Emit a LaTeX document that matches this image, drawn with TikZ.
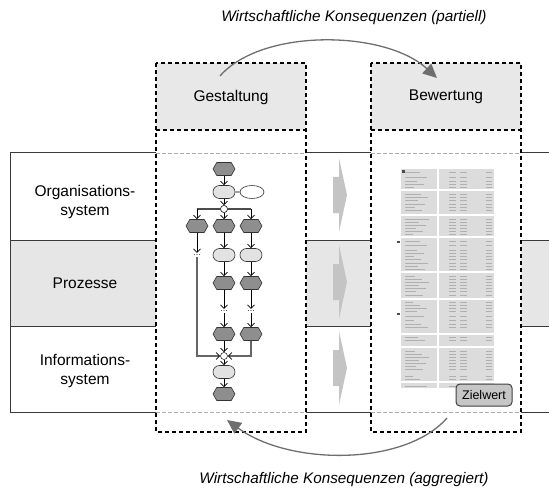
\documentclass[tikz,border=0pt]{standalone}
\usepackage{fontspec}
\setmainfont{Liberation Sans}
\usetikzlibrary{arrows.meta,shapes.symbols,shapes.misc,shapes.geometric,calc}
\definecolor{hdr}{HTML}{E8E8E8}
\definecolor{band}{HTML}{E6E6E6}
\definecolor{hexc}{HTML}{8E8E8E}
\definecolor{evc}{HTML}{E2E2E2}
\definecolor{blk}{HTML}{C4C4C4}
\definecolor{arcc}{HTML}{6E6E6E}
\definecolor{tabc}{HTML}{DCDCDC}
\definecolor{tabt}{HTML}{B0B0B0}
\definecolor{linec}{HTML}{3A3A3A}
\begin{document}
\begin{tikzpicture}[x=1pt,y=-1pt,
  lbl/.style={font=\fontsize{15.5}{19}\selectfont, align=center, inner sep=0},
  ttl/.style={font=\fontsize{15.3}{18}\selectfont\itshape, inner sep=0},
  boxd/.style={draw=black, line width=1.1pt, dash pattern=on 4pt off 3pt},
  innerl/.style={draw=gray!65, line width=0.8pt, dash pattern=on 4pt off 2pt},
  bandl/.style={draw=linec, line width=1pt},
  hexn/.style={signal, signal to=east and west, signal pointer angle=120, fill=hexc, draw=black!80, line width=0.6pt, minimum width=22pt, minimum height=13pt, inner sep=0},
  evn/.style={rounded rectangle, fill=evc, draw=black!80, line width=0.6pt, minimum width=22pt, minimum height=13pt, inner sep=0},
  openev/.style={ellipse, draw=black!80, fill=white, line width=0.6pt, minimum width=24pt, minimum height=13pt, inner sep=0},
  conn/.style={circle, draw=black!80, fill=white, line width=0.6pt, minimum size=7pt, inner sep=0},
  dotsn/.style={font=\fontsize{9}{9}\selectfont, inner sep=1.5pt, text=black!80},
  flow/.style={draw=black, line width=0.7pt, -{Straight Barb[length=3.5pt,width=7pt]}},
  gflow/.style={draw=black!60, line width=1.3pt, -{Straight Barb[length=3.5pt,width=7pt,line width=0.7pt,color=black]}},
  arcarrow/.style={draw=arcc, line width=1.3pt, -{Triangle[length=14pt,width=13pt]}},
  tabtxt/.style={draw=tabt, line width=0.9pt},
  tabw/.style={draw=white, line width=1.2pt}
]
\useasboundingbox (0,0) rectangle (549,492);
% band fills
\fill[band] (10,240) rectangle (156,326);
\fill[band] (306,240) rectangle (371,326);
\fill[band] (521,240) rectangle (549,326);
% band lines
\foreach \yy in {153,240,326,412}{
  \draw[bandl] (10,\yy) -- (156,\yy);
  \draw[bandl] (306,\yy) -- (371,\yy);
  \draw[bandl] (521,\yy) -- (549,\yy);
}
\draw[bandl] (10,153) -- (10,412);
% inner light dashed lines
\foreach \yy in {153,412}{
  \draw[innerl] (156,\yy) -- (306,\yy);
  \draw[innerl] (371,\yy) -- (521,\yy);
}
% header fills
\fill[hdr] (156,63) rectangle (306,130);
\fill[hdr] (371,63) rectangle (521,130);
% dashed boxes
\draw[boxd] (156,63) rectangle (306,432);
\draw[boxd] (156,130) -- (306,130);
\draw[boxd] (371,63) rectangle (521,432);
\draw[boxd] (371,130) -- (521,130);
% header texts
\node[lbl] (gest) at (231,97) {Gestaltung};
\node[lbl] (bew) at (446,97) {Bewertung};
% row labels
\node[lbl] (org) at (85,202) {Organisations-\\system};
\node[lbl] (proz) at (85,283) {Prozesse};
\node[lbl] (inf) at (85,371) {Informations-\\system};
% block arrows
\foreach \ty in {195,282,368}{
  \fill[blk] (333,\ty-18) -- (339,\ty-18) -- (339,\ty-37) -- (347,\ty) -- (339,\ty+37) -- (339,\ty+18) -- (333,\ty+18) -- cycle;
}
% process chain
\node[hexn] (h1) at (224,169) {};
\node[evn] (e1) at (224,192) {};
\node[openev] (eo) at (252,192) {};
\node[conn] (c1) at (224,209) {};
\node[hexn] (h2a) at (197,226) {};
\node[hexn] (h2b) at (224,226) {};
\node[hexn] (h2c) at (251,226) {};
\node[dotsn] (d1) at (197,255) {...};
\node[evn] (e2b) at (224,255) {};
\node[evn] (e2c) at (251,255) {};
\node[hexn] (h3b) at (224,283) {};
\node[hexn] (h3c) at (251,283) {};
\node[dotsn] (d2b) at (224,311) {...};
\node[dotsn] (d2c) at (251,311) {...};
\node[hexn] (h4b) at (224,334) {};
\node[hexn] (h4c) at (251,334) {};
\node[conn] (c2) at (224,356) {};
\node[evn] (e3) at (224,372) {};
\node[hexn] (h5) at (224,394) {};
\draw[flow] (h1) -- (e1);
\draw[draw=black, line width=0.7pt] (e1) -- (eo);
\draw[flow] (e1) -- (c1);
\draw[draw=black!70, line width=1.2pt] (h2a.center |- c1) -- (h2c.center |- c1);
\node[conn] at (c1) {};
\draw[flow] (h2a.center |- c1) -- (h2a);
\draw[flow] (c1) -- (h2b);
\draw[flow] (h2c.center |- c1) -- (h2c);
\draw[flow] (h2a) -- (d1);
\draw[flow] (h2b) -- (e2b);
\draw[flow] (h2c) -- (e2c);
\draw[flow] (e2b) -- (h3b);
\draw[flow] (e2c) -- (h3c);
\draw[flow] (h3b) -- (d2b);
\draw[flow] (h3c) -- (d2c);
\draw[flow] (d2b) -- (h4b);
\draw[flow] (d2c) -- (h4c);
\draw[gflow] (d1) |- (c2);
\draw[gflow] (h4c) |- (c2);
\draw[flow] (h4b) -- (c2);
\draw[flow] (c2) -- (e3);
\draw[flow] (e3) -- (h5);
% evaluation table
\fill[tabc] (401,169) rectangle (494,388);
\foreach \yy [count=\i] in {172,177,181,184,187,194,197,200,204,207,210,219,222,225,228,231,234,241,245,250,253,256,259,263,266,269,276,279,282,285,288,291,295,302,305,308,311,316,320,324,327,337,340,351,354,357,360,363,366,369,376,379,386}{
  \pgfmathsetmacro\ww{8+mod(\i*7,17)}
  \draw[tabtxt] (405,\yy) -- ++(\ww,0);
  \draw[tabtxt] (449,\yy) -- (456,\yy);
  \draw[tabtxt] (460,\yy) -- (467,\yy);
  \draw[tabtxt] (486,\yy) -- (492,\yy);
}
\foreach \yy in {190,215,237,272,299,334,347,382}{
  \draw[tabw] (401,\yy) -- (494,\yy);
}
\draw[tabw] (438,169) -- (438,388);
\fill[black!70] (402,170.5) rectangle (404.5,173);
\fill[black!70] (397,241) rectangle (400,243);
\fill[black!70] (397,313) rectangle (400,315);
% target value
\node[draw=black!75, fill=gray!45, rounded corners=4pt, line width=1pt, minimum width=56pt, minimum height=22pt, inner sep=0, font=\fontsize{12.5}{14}\selectfont] (zw) at (484,395) {Zielwert};
% arcs
\coordinate (ta) at (220,76);
\coordinate (tb) at (437,78);
\draw[arcarrow] (ta) .. controls (262,28) and (385,30) .. (tb);
\coordinate (ba) at (447,418);
\coordinate (bb) at (227,420);
\draw[arcarrow] (ba) .. controls (405,466) and (290,466) .. (bb);
\node[ttl] (t1) at (354,18) {Wirtschaftliche Konsequenzen (partiell)};
\node[ttl] (t2) at (344,480) {Wirtschaftliche Konsequenzen (aggregiert)};
\end{tikzpicture}
\end{document}
